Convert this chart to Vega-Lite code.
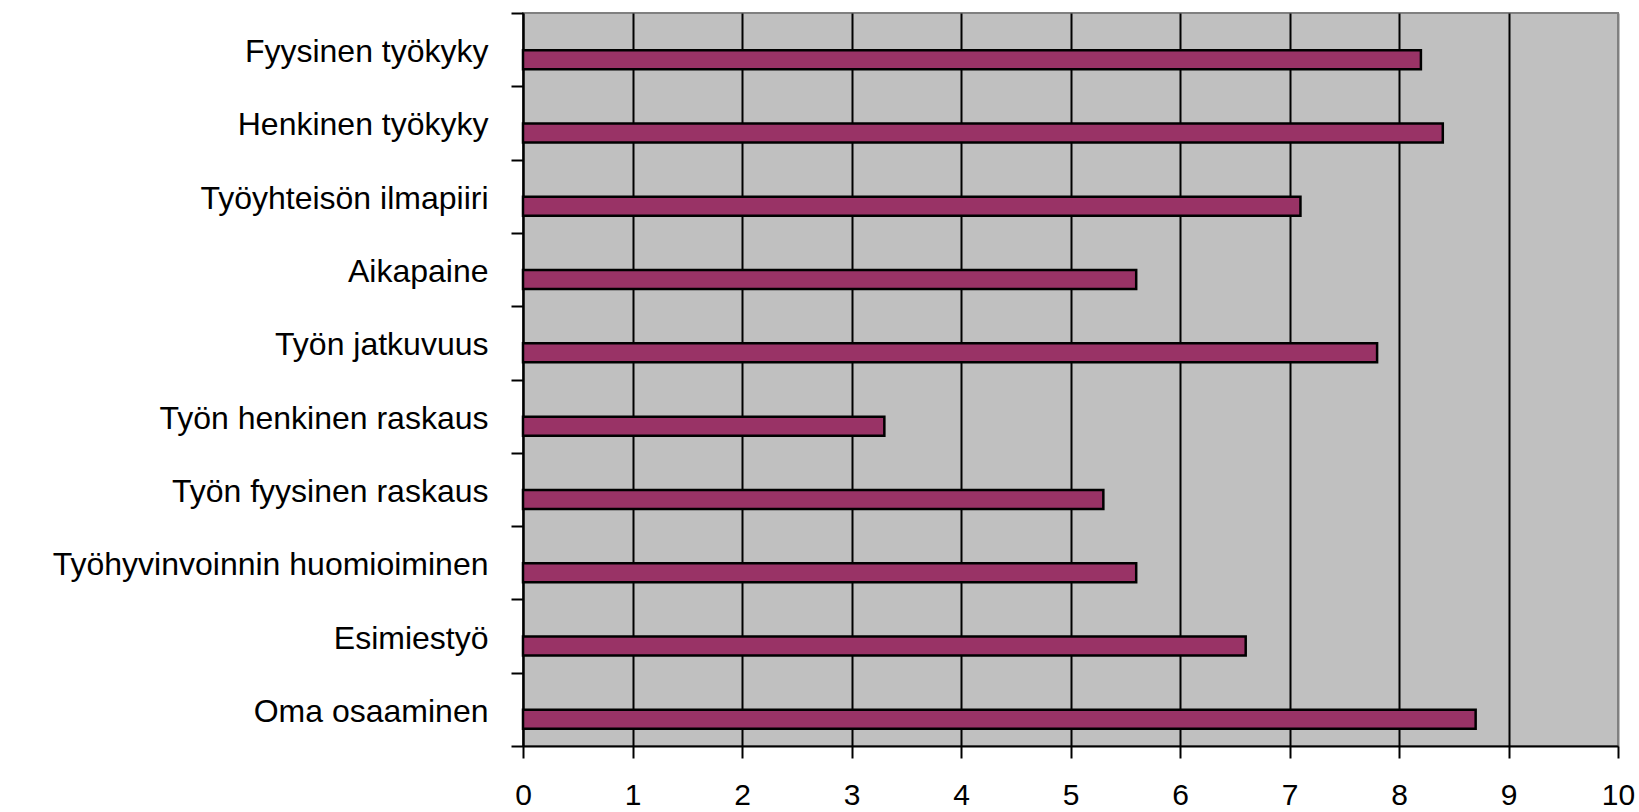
{
  "$schema": "https://vega.github.io/schema/vega-lite/v6.json",
  "autosize": {"type": "none"},
  "padding": {"left": 523, "top": 13, "right": 21, "bottom": 66},
  "width": 1095,
  "height": 733,
  "background": "white",
  "config": {
    "view": {"fill": "#C0C0C0", "stroke": "#808080", "strokeWidth": 2},
    "font": "Liberation Sans"
  },
  "data": {
    "values": [
      {"kategoria": "Fyysinen työkyky", "arvo": 8.2},
      {"kategoria": "Henkinen työkyky", "arvo": 8.4},
      {"kategoria": "Työyhteisön ilmapiiri", "arvo": 7.1},
      {"kategoria": "Aikapaine", "arvo": 5.6},
      {"kategoria": "Työn jatkuvuus", "arvo": 7.8},
      {"kategoria": "Työn henkinen raskaus", "arvo": 3.3},
      {"kategoria": "Työn fyysinen raskaus", "arvo": 5.3},
      {"kategoria": "Työhyvinvoinnin huomioiminen", "arvo": 5.6},
      {"kategoria": "Esimiestyö", "arvo": 6.6},
      {"kategoria": "Oma osaaminen", "arvo": 8.7}
    ]
  },
  "mark": {"type": "bar", "color": "#993366", "stroke": "black", "strokeWidth": 2.5, "height": 19, "yOffset": 10},
  "encoding": {
    "y": {
      "field": "kategoria",
      "type": "nominal",
      "sort": null,
      "scale": {"paddingInner": 0, "paddingOuter": 0},
      "axis": {
        "title": null,
        "tickBand": "extent",
        "tickSize": 12,
        "tickWidth": 2,
        "tickColor": "black",
        "domainColor": "black",
        "domainWidth": 2,
        "labelFontSize": 32,
        "labelColor": "black",
        "labelPadding": 23,
        "labelOffset": 2,
        "labelLimit": 600,
        "grid": false
      }
    },
    "x": {
      "field": "arvo",
      "type": "quantitative",
      "scale": {"domain": [0, 10], "nice": false},
      "axis": {
        "title": null,
        "values": [0, 1, 2, 3, 4, 5, 6, 7, 8, 9, 10],
        "tickSize": 12,
        "tickWidth": 2,
        "tickColor": "black",
        "domainColor": "black",
        "domainWidth": 2,
        "labelFontSize": 30,
        "labelColor": "black",
        "labelPadding": 22,
        "labelFlush": false,
        "grid": true,
        "gridColor": {"condition": {"test": "datum.value == 10", "value": "#808080"}, "value": "black"},
        "gridWidth": 2,
        "gridOpacity": 1
      }
    }
  }
}
